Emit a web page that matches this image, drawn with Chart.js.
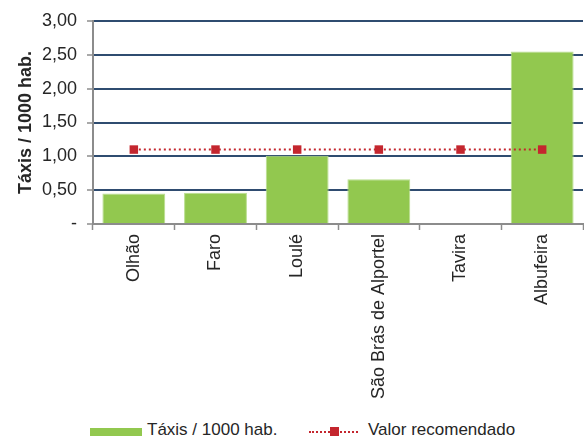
<!DOCTYPE html>
<html>
<head>
<meta charset="utf-8">
<script src="https://cdn.jsdelivr.net/npm/chart.js@4/dist/chart.umd.min.js"></script>
<style>
  html, body { margin:0; padding:0; background:#fff; }
  #wrap { position:relative; width:584px; height:439px; font-family:"Liberation Sans", Arial, sans-serif; color:#262626; }
  #c { position:absolute; left:0; top:0; }
  .leg { position:absolute; top:420px; font-size:17px; line-height:20px; white-space:nowrap; }
  .box { position:absolute; width:52px; height:8px; background:#92c84f; }
  .dot { position:absolute; height:0; border-top:2px dotted #c4262e; }
  .sq { position:absolute; width:9px; height:9px; background:#c4262e; }
</style>
</head>
<body>
<div id="wrap">
  <canvas id="c" width="584" height="415"></canvas>
  <div class="box" style="left:90px; top:428px;"></div>
  <div class="leg" style="left:147px;">Táxis / 1000 hab.</div>
  <div class="dot" style="left:309px; top:431px; width:49px;"></div>
  <div class="sq" style="left:330px; top:427px;"></div>
  <div class="leg" style="left:368px;">Valor recomendado</div>
</div>
<script>
const categories = ["Olhão", "Faro", "Loulé", "São Brás de Alportel", "Tavira", "Albufeira"];
const taxisPer1000 = [0.45, 0.46, 1.01, 0.66, 0, 2.55];
const recommended = [1.10, 1.10, 1.10, 1.10, 1.10, 1.10];
const yTicks = [0, 0.5, 1, 1.5, 2, 2.5, 3];

const FONT = "'Liberation Sans', Arial, sans-serif";
const TXT = '#262626';

new Chart(document.getElementById('c'), {
  data: {
    labels: categories,
    datasets: [
      {
        type: 'line',
        label: 'Valor recomendado',
        data: recommended,
        borderColor: '#c4262e',
        borderWidth: 2,
        borderDash: [2, 3],
        pointStyle: 'rect',
        pointRadius: 6,
        pointBorderWidth: 0,
        pointBackgroundColor: '#c4262e',
        fill: false,
        order: 0
      },
      {
        type: 'bar',
        label: 'Táxis / 1000 hab.',
        data: taxisPer1000,
        backgroundColor: '#92c84f',
        borderColor: '#b9de8f',
        borderWidth: 1,
        categoryPercentage: 1.0,
        barPercentage: 0.77,
        order: 1
      }
    ]
  },
  options: {
    responsive: false,
    animation: false,
    layout: { autoPadding: false, padding: { top: 21, right: 1, left: 0, bottom: 0 } },
    plugins: {
      legend: { display: false },
      tooltip: { enabled: false }
    },
    scales: {
      x: {
        offset: true,
        grid: {
          offset: true,
          drawOnChartArea: false,
          drawTicks: true,
          tickLength: 6,
          tickColor: '#8c8c8c',
          tickWidth: 1.5
        },
        border: { display: true, color: '#8c8c8c', width: 2 },
        ticks: {
          autoSkip: false,
          minRotation: 90,
          maxRotation: 90,
          padding: 4,
          color: TXT,
          font: { family: FONT, size: 18 }
        },
        afterFit: (s) => { s.height = 415 - 224; }
      },
      y: {
        min: 0,
        max: 3,
        afterBuildTicks: (s) => { s.ticks = yTicks.map(v => ({ value: v })); },
        grid: {
          color: (ctx) => ctx.tick && ctx.tick.value === 0 ? 'rgba(0,0,0,0)' : '#2f4c70',
          lineWidth: 2,
          drawTicks: true,
          tickLength: 6,
          tickColor: '#8c8c8c',
          tickWidth: 1.5
        },
        border: { display: true, color: '#8c8c8c', width: 2 },
        ticks: {
          padding: 10,
          color: TXT,
          font: { family: FONT, size: 18 },
          callback: (v) => v === 0 ? '-' : v.toFixed(2).replace('.', ',')
        },
        title: {
          display: true,
          text: 'Táxis / 1000 hab.',
          color: TXT,
          font: { family: FONT, size: 18, weight: 'bold' },
          padding: { top: 15, bottom: 4 }
        },
        afterFit: (s) => { s.width = 93; }
      }
    }
  }
});
</script>
</body>
</html>
